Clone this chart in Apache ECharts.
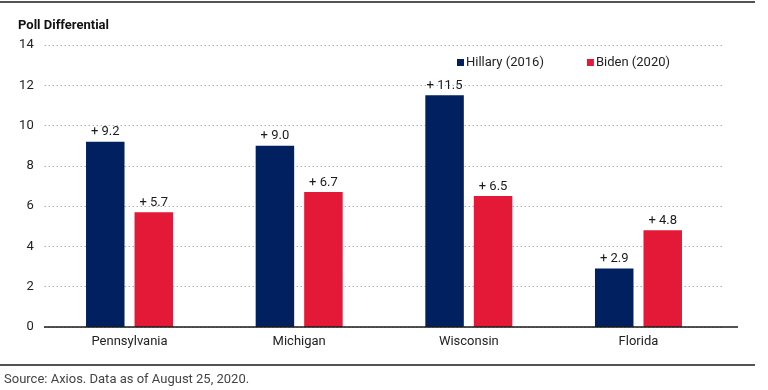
<!DOCTYPE html>
<html><head><meta charset="utf-8">
<script src="https://cdn.jsdelivr.net/npm/echarts@6/dist/echarts.min.js"></script>
<style>html,body{margin:0;padding:0;background:#fff}#c{width:768px;height:390px}</style>
</head><body><div id="c"></div>
<script>
var categories = ['Pennsylvania', 'Michigan', 'Wisconsin', 'Florida'];
var hillary2016 = [9.2, 9.0, 11.5, 2.9];
var biden2020 = [5.7, 6.7, 6.5, 4.8];
var seriesNames = ['Hillary (2016)', 'Biden (2020)'];
var yTicks = [0, 2, 4, 6, 8, 10, 12, 14];

var FONT = '"Liberation Sans Narrow", "Roboto", sans-serif';
var chart = echarts.init(document.getElementById('c'));
var labelCfg = {
  show: true, position: 'top', distance: 3,
  fontFamily: FONT, fontSize: 13, color: '#1a1a1a',
  formatter: function (p) { return '+ ' + p.value.toFixed(1); }
};
chart.setOption({
  animation: false,
  textStyle: { fontFamily: FONT },
  grid: { left: 44.7, right: 768 - 723.3, top: 45, bottom: 390 - 327, containLabel: false },
  legend: {
    data: seriesNames, top: 51, left: 452, itemWidth: 7, itemHeight: 7, itemGap: 43,
    icon: 'rect',
    textStyle: { fontFamily: FONT, fontSize: 13, color: '#222', padding: [0, 0, 0, -3] }
  },
  graphic: [
    { type: 'line', shape: { x1: 0, y1: 2, x2: 755, y2: 2 }, style: { stroke: '#1a1a1a', lineWidth: 1.5 } },
    { type: 'line', shape: { x1: 0, y1: 365, x2: 755, y2: 365 }, style: { stroke: '#1a1a1a', lineWidth: 1.5 } },
    { type: 'line', shape: { x1: 44, y1: 327, x2: 738, y2: 327 }, style: { stroke: '#1a1a1a', lineWidth: 1.5 }, z: 10 },
    { type: 'text', left: 18, top: 19, style: { text: 'Poll Differential', font: 'bold 13px ' + FONT, fill: '#111' } },
    { type: 'text', left: 4, top: 373, style: { text: 'Source: Axios. Data as of August 25, 2020.', font: '13px ' + FONT, fill: '#444' } }
  ],
  xAxis: {
    type: 'category', data: categories,
    axisLine: { show: false }, axisTick: { show: false },
    axisLabel: { fontFamily: FONT, fontSize: 13, color: '#222', margin: 8 }
  },
  yAxis: {
    type: 'value', min: yTicks[0], max: yTicks[yTicks.length - 1], interval: 2,
    axisLine: { show: false }, axisTick: { show: false },
    axisLabel: { fontFamily: FONT, fontSize: 13, color: '#222', margin: 11 },
    splitLine: { lineStyle: { color: '#888', type: [1, 3], width: 1 } }
  },
  series: [
    { name: seriesNames[0], type: 'bar', data: hillary2016, barWidth: 38.5, barGap: '26%',
      itemStyle: { color: '#002060' }, label: labelCfg },
    { name: seriesNames[1], type: 'bar', data: biden2020, barWidth: 38.5,
      itemStyle: { color: '#E31937' }, label: labelCfg }
  ]
});
</script></body></html>
